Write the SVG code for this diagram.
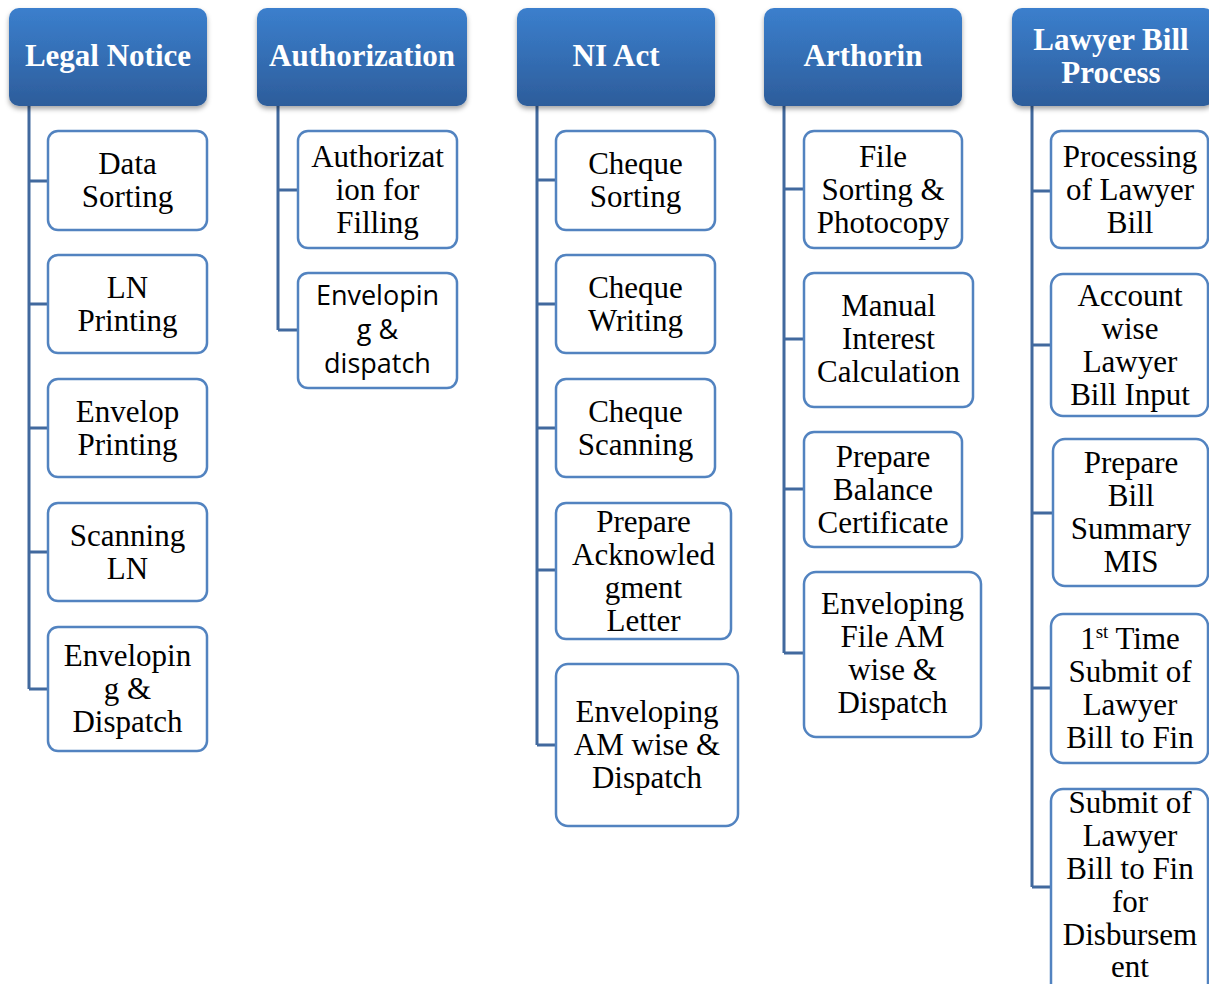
<svg xmlns="http://www.w3.org/2000/svg" width="1209" height="984" viewBox="0 0 1209 984">
<defs>
<linearGradient id="hg" x1="0" y1="0" x2="0" y2="1">
<stop offset="0" stop-color="#3b7fcd"/>
<stop offset="1" stop-color="#2d5d9b"/>
</linearGradient>
<filter id="sh" x="-10%" y="-10%" width="120%" height="130%">
<feDropShadow dx="0" dy="3" stdDeviation="2.5" flood-color="#000" flood-opacity="0.35"/>
</filter>
</defs>
<style>
.hd{fill:url(#hg);filter:url(#sh);}
.ht{font-family:"Liberation Serif",serif;font-weight:bold;font-size:31px;fill:#fff;text-anchor:middle;}
.bx{fill:#fff;stroke:#5283c0;stroke-width:2.5;}
.t{font-family:"Liberation Serif",serif;font-size:31px;fill:#000;text-anchor:middle;}
.s{font-family:"Open Sans","Noto Sans",sans-serif;font-size:27px;fill:#000;text-anchor:middle;}
.c{fill:none;stroke:#41699e;stroke-width:3;}
</style>
<rect width="1209" height="984" fill="#fff"/>

<g id="connectors">
<path class="c" d="M29,106V689M29,181H48M29,304H48M29,428H48M29,552H48M29,689H48"/>
<path class="c" d="M278,106V330M278,190H298M278,330H298"/>
<path class="c" d="M537,106V745M537,180H556M537,304H556M537,428H556M537,570H556M537,745H556"/>
<path class="c" d="M784,106V653M784,189H804M784,339H804M784,489H804M784,653H804"/>
<path class="c" d="M1032,106V887M1032,191H1051M1032,345H1051M1032,513H1053M1032,688H1051M1032,887H1051"/>
</g>

<g id="h-legal"><rect class="hd" x="9" y="8" width="198" height="98" rx="10"/><text class="ht" x="108" y="66">Legal Notice</text></g>
<g id="h-auth"><rect class="hd" x="257" y="8" width="210" height="98" rx="10"/><text class="ht" x="362" y="66">Authorization</text></g>
<g id="h-ni"><rect class="hd" x="517" y="8" width="198" height="98" rx="10"/><text class="ht" x="616" y="66">NI Act</text></g>
<g id="h-arth"><rect class="hd" x="764" y="8" width="198" height="98" rx="10"/><text class="ht" x="863" y="66">Arthorin</text></g>
<g id="h-lawyer"><rect class="hd" x="1012" y="8" width="202" height="98" rx="10"/><text class="ht" x="1111"><tspan x="1111" y="50">Lawyer Bill</tspan><tspan x="1111" y="83">Process</tspan></text></g>

<g id="ln1"><rect class="bx" x="48" y="131" width="159" height="99" rx="10"/><text class="t"><tspan x="127.5" y="174">Data</tspan><tspan x="127.5" y="207">Sorting</tspan></text></g>
<g id="ln2"><rect class="bx" x="48" y="255" width="159" height="98" rx="10"/><text class="t"><tspan x="127.5" y="297.5">LN</tspan><tspan x="127.5" y="330.5">Printing</tspan></text></g>
<g id="ln3"><rect class="bx" x="48" y="379" width="159" height="98" rx="10"/><text class="t"><tspan x="127.5" y="421.5">Envelop</tspan><tspan x="127.5" y="454.5">Printing</tspan></text></g>
<g id="ln4"><rect class="bx" x="48" y="503" width="159" height="98" rx="10"/><text class="t"><tspan x="127.5" y="545.5">Scanning</tspan><tspan x="127.5" y="578.5">LN</tspan></text></g>
<g id="ln5"><rect class="bx" x="48" y="627" width="159" height="124" rx="10"/><text class="t"><tspan x="127.5" y="666">Envelopin</tspan><tspan x="127.5" y="699">g &amp;</tspan><tspan x="127.5" y="732">Dispatch</tspan></text></g>

<g id="au1"><rect class="bx" x="298" y="131" width="159" height="117" rx="10"/><text class="t"><tspan x="377.5" y="166.5">Authorizat</tspan><tspan x="377.5" y="199.5">ion for</tspan><tspan x="377.5" y="232.5">Filling</tspan></text></g>
<g id="au2"><rect class="bx" x="298" y="273" width="159" height="115" rx="10"/><text class="s"><tspan x="377.5" y="305">Envelopin</tspan><tspan x="377.5" y="339">g &amp;</tspan><tspan x="377.5" y="373">dispatch</tspan></text></g>

<g id="ni1"><rect class="bx" x="556" y="131" width="159" height="99" rx="10"/><text class="t"><tspan x="635.5" y="174">Cheque</tspan><tspan x="635.5" y="207">Sorting</tspan></text></g>
<g id="ni2"><rect class="bx" x="556" y="255" width="159" height="98" rx="10"/><text class="t"><tspan x="635.5" y="297.5">Cheque</tspan><tspan x="635.5" y="330.5">Writing</tspan></text></g>
<g id="ni3"><rect class="bx" x="556" y="379" width="159" height="98" rx="10"/><text class="t"><tspan x="635.5" y="421.5">Cheque</tspan><tspan x="635.5" y="454.5">Scanning</tspan></text></g>
<g id="ni4"><rect class="bx" x="556" y="503" width="175" height="136" rx="10"/><text class="t"><tspan x="643.5" y="531.5">Prepare</tspan><tspan x="643.5" y="564.5">Acknowled</tspan><tspan x="643.5" y="597.5">gment</tspan><tspan x="643.5" y="630.5">Letter</tspan></text></g>
<g id="ni5"><rect class="bx" x="556" y="664" width="182" height="162" rx="12"/><text class="t"><tspan x="647" y="722">Enveloping</tspan><tspan x="647" y="755">AM wise &amp;</tspan><tspan x="647" y="788">Dispatch</tspan></text></g>

<g id="ar1"><rect class="bx" x="804" y="131" width="158" height="117" rx="10"/><text class="t"><tspan x="883" y="166.5">File</tspan><tspan x="883" y="199.5">Sorting &amp;</tspan><tspan x="883" y="232.5">Photocopy</tspan></text></g>
<g id="ar2"><rect class="bx" x="804" y="273" width="169" height="134" rx="10"/><text class="t"><tspan x="888.5" y="316">Manual</tspan><tspan x="888.5" y="349">Interest</tspan><tspan x="888.5" y="382">Calculation</tspan></text></g>
<g id="ar3"><rect class="bx" x="804" y="432" width="158" height="115" rx="10"/><text class="t"><tspan x="883" y="466.5">Prepare</tspan><tspan x="883" y="499.5">Balance</tspan><tspan x="883" y="532.5">Certificate</tspan></text></g>
<g id="ar4"><rect class="bx" x="804" y="572" width="177" height="165" rx="12"/><text class="t"><tspan x="892.5" y="614">Enveloping</tspan><tspan x="892.5" y="647">File AM</tspan><tspan x="892.5" y="680">wise &amp;</tspan><tspan x="892.5" y="713">Dispatch</tspan></text></g>

<g id="lb1"><rect class="bx" x="1051" y="131" width="157" height="117" rx="10"/><text class="t"><tspan x="1130" y="166.5">Processing</tspan><tspan x="1130" y="199.5">of Lawyer</tspan><tspan x="1130" y="232.5">Bill</tspan></text></g>
<g id="lb2"><rect class="bx" x="1051" y="274" width="157" height="142" rx="12"/><text class="t"><tspan x="1130" y="305.5">Account</tspan><tspan x="1130" y="338.5">wise</tspan><tspan x="1130" y="371.5">Lawyer</tspan><tspan x="1130" y="404.5">Bill Input</tspan></text></g>
<g id="lb3"><rect class="bx" x="1053" y="439" width="155" height="147" rx="12"/><text class="t"><tspan x="1131" y="473">Prepare</tspan><tspan x="1131" y="506">Bill</tspan><tspan x="1131" y="539">Summary</tspan><tspan x="1131" y="572">MIS</tspan></text></g>
<g id="lb4"><rect class="bx" x="1051" y="614" width="157" height="149" rx="12"/><text class="t"><tspan x="1130" y="649">1<tspan font-size="19" dy="-11">st</tspan><tspan dy="11"> Time</tspan></tspan><tspan x="1130" y="682">Submit of</tspan><tspan x="1130" y="715">Lawyer</tspan><tspan x="1130" y="748">Bill to Fin</tspan></text></g>
<g id="lb5"><rect class="bx" x="1051" y="789" width="157" height="220" rx="12"/><text class="t"><tspan x="1130" y="813">Submit of</tspan><tspan x="1130" y="846">Lawyer</tspan><tspan x="1130" y="879">Bill to Fin</tspan><tspan x="1130" y="912">for</tspan><tspan x="1130" y="945">Disbursem</tspan><tspan x="1130" y="977">ent</tspan></text></g>
</svg>
